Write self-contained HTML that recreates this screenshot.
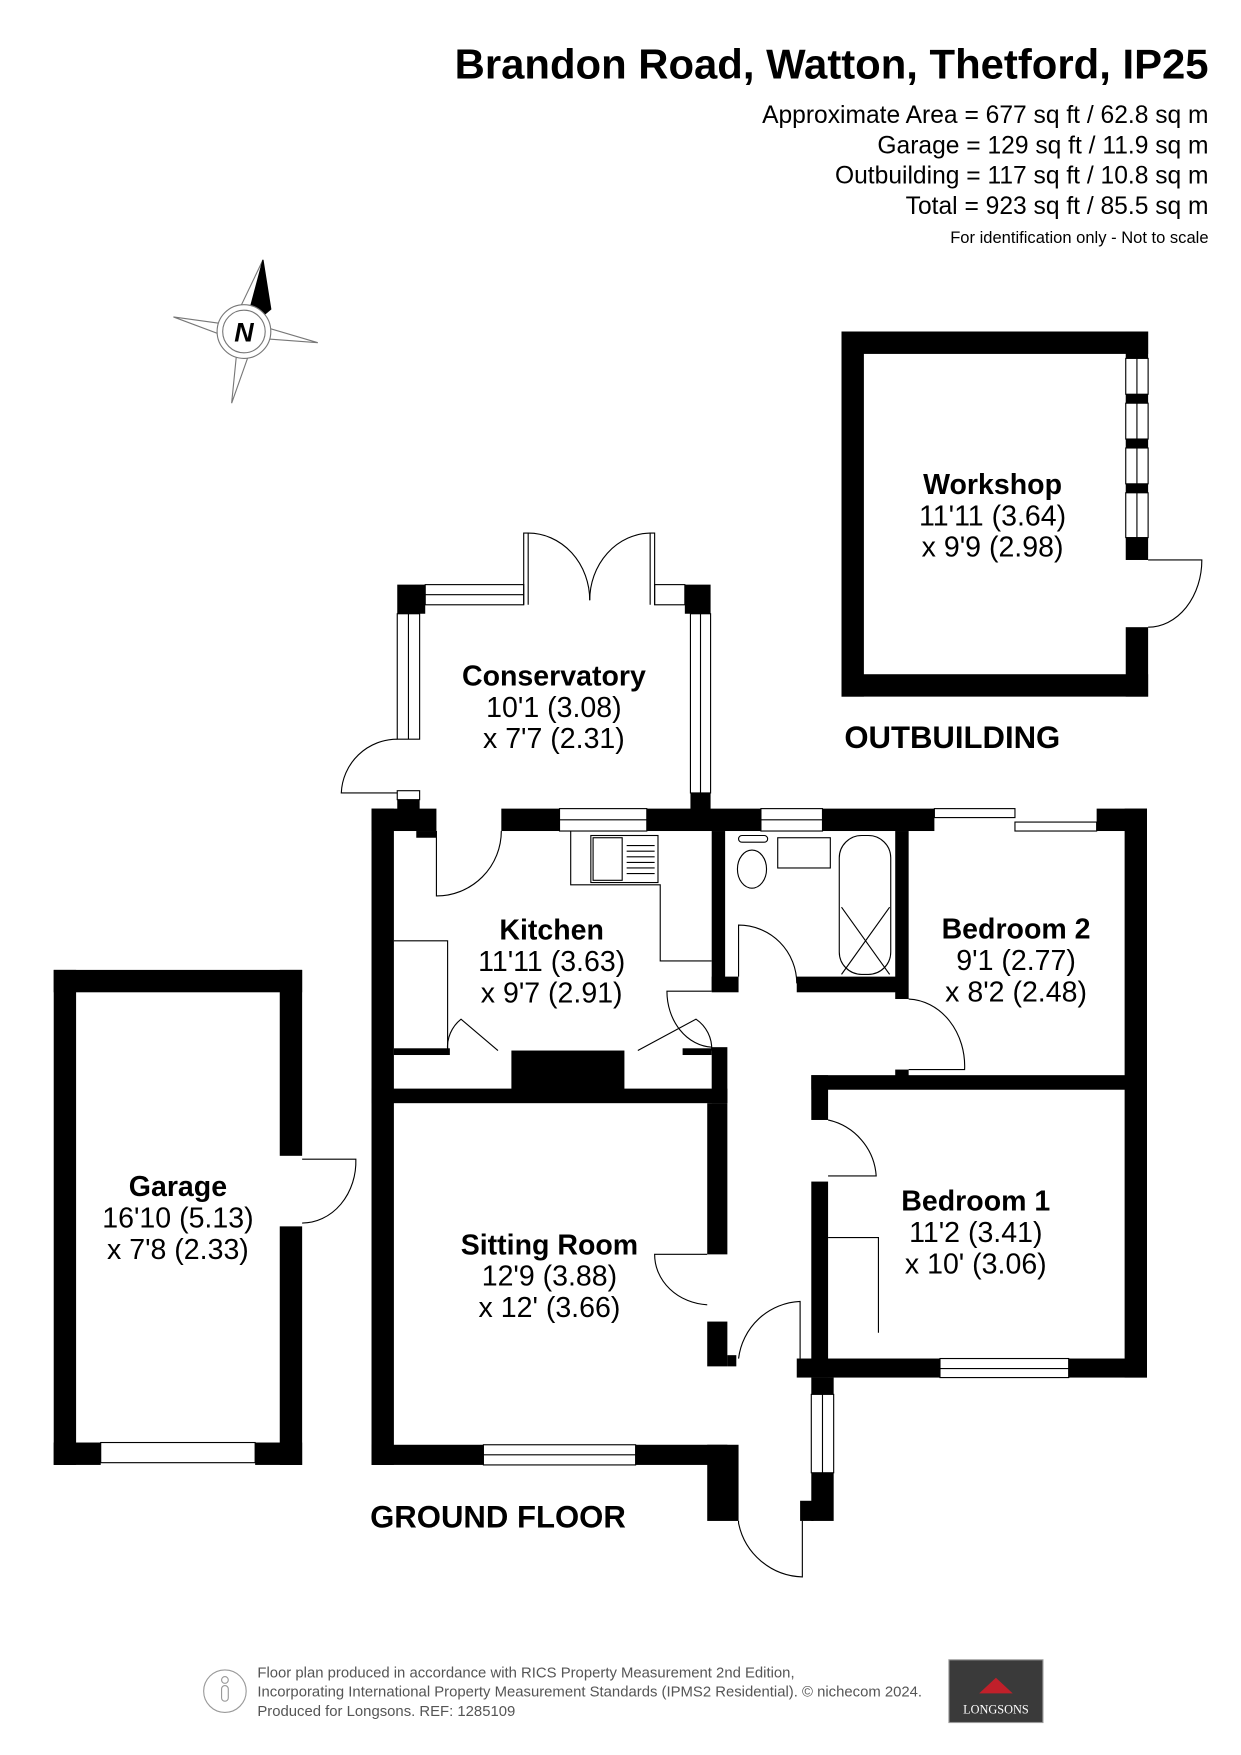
<!DOCTYPE html>
<html><head><meta charset="utf-8"><style>
html,body{margin:0;padding:0;background:#fff}
svg{display:block}
text{font-family:"Liberation Sans",sans-serif;fill:#000}
.b{font-weight:bold}
</style></head><body>
<svg width="1241" height="1755" viewBox="0 0 1109 1567" preserveAspectRatio="none" xmlns="http://www.w3.org/2000/svg">
<!-- header -->
<text x="1080" y="70" text-anchor="end" class="b" font-size="37.4">Brandon Road, Watton, Thetford, IP25</text>
<g font-size="22" text-anchor="end">
<text x="1080" y="110">Approximate Area = 677 sq ft / 62.8 sq m</text>
<text x="1080" y="137">Garage = 129 sq ft / 11.9 sq m</text>
<text x="1080" y="164">Outbuilding = 117 sq ft / 10.8 sq m</text>
<text x="1080" y="191">Total = 923 sq ft / 85.5 sq m</text>
</g>
<text x="1080" y="217" text-anchor="end" font-size="14.8">For identification only - Not to scale</text>

<!-- compass -->
<g stroke="#777" stroke-width="1" fill="#fff">
<polygon points="155,283 206,290 218,296 206,302"/>
<polygon points="284,306 230,302 218,296 230,290"/>
<polygon points="207,360 212,310 218,296 224,312"/>
<polygon points="235,232 224,282 218,296 212,280" fill="#fff"/>
<polygon points="235,232 242,276 218,296" fill="#000" stroke="#000"/>
<circle cx="218" cy="296" r="24"/>
<circle cx="218" cy="296" r="19"/>
</g>
<text x="218" y="305" text-anchor="middle" class="b" font-size="24" font-style="italic">N</text>

<g fill="#000">
<!-- Workshop -->
<rect x="752" y="296" width="274" height="20"/>
<rect x="752" y="296" width="20" height="326"/>
<rect x="752" y="602" width="274" height="20"/>
<rect x="1006" y="296" width="20" height="24"/>
<rect x="1006" y="352" width="20" height="8"/>
<rect x="1006" y="392" width="20" height="8"/>
<rect x="1006" y="432" width="20" height="8"/>
<rect x="1006" y="480" width="20" height="20"/>
<rect x="1006" y="560" width="20" height="62"/>
</g>
<g fill="#fff" stroke="#000" stroke-width="1">
<rect x="1006" y="320" width="20" height="32"/><rect x="1006" y="360" width="20" height="32"/>
<rect x="1006" y="400" width="20" height="32"/><rect x="1006" y="440" width="20" height="40"/>
</g>
<g fill="none" stroke="#000" stroke-width="1">
<line x1="1016" y1="320" x2="1016" y2="480"/>
<path d="M1026 500 L1074 500 A48 60 0 0 1 1026 560"/>
</g>
<text x="887" y="441" text-anchor="middle" class="b" font-size="25.5">Workshop</text>
<text x="887" y="469" text-anchor="middle" font-size="25.5">11'11 (3.64)</text>
<text x="887" y="497" text-anchor="middle" font-size="25.5">x 9'9 (2.98)</text>
<text x="851" y="668" text-anchor="middle" class="b" font-size="27.8">OUTBUILDING</text>

<!-- Conservatory -->
<g fill="#000">
<rect x="355" y="522" width="25" height="26"/>
<rect x="612" y="522" width="23" height="26"/>
<rect x="617" y="708" width="18" height="16"/>
<rect x="355" y="712" width="20" height="12"/>
</g>
<g fill="#fff" stroke="#000" stroke-width="1">
<rect x="380" y="522" width="88" height="18"/>
<rect x="585" y="522" width="27" height="18"/>
<rect x="355" y="548" width="20" height="112"/>
<rect x="617" y="548" width="18" height="160"/>
<rect x="355" y="706" width="20" height="8"/>
</g>
<g fill="none" stroke="#000" stroke-width="1">
<line x1="380" y1="531" x2="468" y2="531"/>
<line x1="365" y1="548" x2="365" y2="660"/>
<line x1="626" y1="548" x2="626" y2="708"/>
<path d="M468 540 L468 476 L472 476 L472 540"/>
<path d="M585 540 L585 476 L581 476 L581 540"/>
<path d="M472 476 A55 60 0 0 1 527 536"/>
<path d="M581 476 A55 60 0 0 0 527 536"/>
<path d="M355 660 A50 50 0 0 0 305 708 L355 708"/>
</g>
<text x="495" y="612" text-anchor="middle" class="b" font-size="25.5">Conservatory</text>
<text x="495" y="640" text-anchor="middle" font-size="25.5">10'1 (3.08)</text>
<text x="495" y="668" text-anchor="middle" font-size="25.5">x 7'7 (2.31)</text>

<!-- Main house walls -->
<g fill="#000">
<rect x="332" y="722" width="58" height="20"/>
<rect x="448" y="722" width="52" height="20"/>
<rect x="578" y="722" width="102" height="20"/>
<rect x="735" y="722" width="100" height="20"/>
<rect x="980" y="722" width="45" height="20"/>
<rect x="1005" y="722" width="20" height="508"/>
<rect x="332" y="722" width="20" height="586"/>
<rect x="372" y="742" width="18" height="6" />
<rect x="636" y="742" width="12" height="143"/>
<rect x="636" y="872" width="24" height="14"/>
<rect x="712" y="872" width="98" height="14"/>
<rect x="800" y="742" width="12" height="150"/>
<rect x="725" y="960" width="300" height="13"/>
<rect x="800" y="955" width="12" height="10"/>
<rect x="636" y="935" width="14" height="50"/>
<rect x="332" y="972" width="318" height="13"/>
<rect x="457" y="938" width="101" height="37"/>
<rect x="352" y="936" width="50" height="6"/>
<rect x="610" y="936" width="26" height="6"/>
<rect x="632" y="985" width="18" height="135"/>
<rect x="632" y="1180" width="18" height="40"/>
<rect x="650" y="1210" width="8" height="10"/>
<rect x="332" y="1290" width="100" height="18"/>
<rect x="568" y="1290" width="82" height="18"/>
<rect x="632" y="1290" width="28" height="68"/>
<rect x="725" y="960" width="15" height="40"/>
<rect x="725" y="1055" width="15" height="175"/>
<rect x="712" y="1213" width="128" height="17"/>
<rect x="955" y="1213" width="70" height="17"/>
<rect x="725" y="1230" width="20" height="15"/>
<rect x="725" y="1315" width="20" height="43"/>
<rect x="715" y="1340" width="12" height="18"/>
</g>
<g fill="#fff" stroke="#000" stroke-width="1">
<rect x="500" y="722" width="78" height="20"/>
<rect x="680" y="722" width="55" height="20"/>
<rect x="835" y="722" width="72" height="8"/>
<rect x="907" y="734" width="73" height="8"/>
<rect x="432" y="1290" width="136" height="18"/>
<rect x="840" y="1213" width="115" height="17"/>
<rect x="725" y="1245" width="20" height="70"/>
</g>
<g fill="none" stroke="#000" stroke-width="1">
<line x1="500" y1="732" x2="578" y2="732"/>
<line x1="680" y1="732" x2="735" y2="732"/>
<line x1="432" y1="1299" x2="568" y2="1299"/>
<line x1="840" y1="1222" x2="955" y2="1222"/>
<line x1="735" y1="1245" x2="735" y2="1315"/>
<path d="M390 742 L390 800 A58 58 0 0 0 448 742"/>
<path d="M510 742 L510 790 L590 790 L590 858 L636 858"/>
<rect x="530" y="748" width="26" height="38"/>
<rect x="528" y="746" width="60" height="42"/>
<g stroke-width="1"><line x1="560" y1="755" x2="585" y2="755"/><line x1="560" y1="760" x2="585" y2="760"/><line x1="560" y1="765" x2="585" y2="765"/><line x1="560" y1="770" x2="585" y2="770"/><line x1="560" y1="775" x2="585" y2="775"/><line x1="560" y1="780" x2="585" y2="780"/></g>
<path d="M352 840 L400 840 L400 938"/>
<path d="M400 938 A32 32 0 0 1 412 910 L445 938"/>
<path d="M636 938 A32 32 0 0 0 622 910 L570 938"/>
<path d="M636 885 L596 885 A42 50 0 0 0 636 935"/>
<ellipse cx="672" cy="776" rx="13" ry="17"/>
<rect x="660" y="746" width="26" height="6" rx="3"/>
<rect x="695" y="748" width="47" height="27"/>
<rect x="750" y="746" width="46" height="124" rx="20"/>
<path d="M752 810 L795 870 M795 810 L752 870"/>
<path d="M660 872 L660 826 A52 52 0 0 1 712 878"/>
<path d="M812 892 A52 60 0 0 1 862 955 L812 955"/>
<path d="M740 1000 A55 55 0 0 1 783 1050 L740 1050"/>
<path d="M740 1105 L785 1105 L785 1190"/>
<path d="M632 1120 L585 1120 A50 45 0 0 0 632 1165"/>
<path d="M660 1213 A58 58 0 0 1 715 1162 L715 1213"/>
<path d="M660 1358 L660 1360 A60 60 0 0 0 717 1408 L717 1358"/>
</g>
<text x="493" y="839" text-anchor="middle" class="b" font-size="25.5">Kitchen</text>
<text x="493" y="867" text-anchor="middle" font-size="25.5">11'11 (3.63)</text>
<text x="493" y="895" text-anchor="middle" font-size="25.5">x 9'7 (2.91)</text>
<text x="908" y="838" text-anchor="middle" class="b" font-size="25.5">Bedroom 2</text>
<text x="908" y="866" text-anchor="middle" font-size="25.5">9'1 (2.77)</text>
<text x="908" y="894" text-anchor="middle" font-size="25.5">x 8'2 (2.48)</text>
<text x="872" y="1081" text-anchor="middle" class="b" font-size="25.5">Bedroom 1</text>
<text x="872" y="1109" text-anchor="middle" font-size="25.5">11'2 (3.41)</text>
<text x="872" y="1137" text-anchor="middle" font-size="25.5">x 10' (3.06)</text>
<text x="491" y="1120" text-anchor="middle" class="b" font-size="25.5">Sitting Room</text>
<text x="491" y="1148" text-anchor="middle" font-size="25.5">12'9 (3.88)</text>
<text x="491" y="1176" text-anchor="middle" font-size="25.5">x 12' (3.66)</text>

<!-- Garage -->
<g fill="#000">
<rect x="48" y="866" width="222" height="20"/>
<rect x="48" y="866" width="20" height="442"/>
<rect x="250" y="866" width="20" height="166"/>
<rect x="250" y="1095" width="20" height="213"/>
<rect x="48" y="1288" width="42" height="20"/>
<rect x="228" y="1288" width="42" height="20"/>
</g>
<rect x="90" y="1288" width="138" height="18" fill="#fff" stroke="#000"/>
<path d="M270 1035 L318 1035 A48 55 0 0 1 270 1092" fill="none" stroke="#000"/>
<text x="159" y="1068" text-anchor="middle" class="b" font-size="25.5">Garage</text>
<text x="159" y="1096" text-anchor="middle" font-size="25.5">16'10 (5.13)</text>
<text x="159" y="1124" text-anchor="middle" font-size="25.5">x 7'8 (2.33)</text>
<text x="445" y="1364" text-anchor="middle" class="b" font-size="27.8">GROUND FLOOR</text>

<!-- footer -->
<circle cx="201" cy="1510" r="19" fill="none" stroke="#999"/>
<circle cx="201" cy="1500" r="3" fill="none" stroke="#999"/>
<rect x="198" y="1505" width="6" height="14" rx="3" fill="none" stroke="#999"/>
<g font-size="13.3">
<text x="230" y="1498" style="fill:#555">Floor plan produced in accordance with RICS Property Measurement 2nd Edition,</text>
<text x="230" y="1515" style="fill:#555">Incorporating International Property Measurement Standards (IPMS2 Residential).  © nichecom 2024.</text>
<text x="230" y="1532" style="fill:#555">Produced for Longsons.   REF: 1285109</text>
</g>
<rect x="848" y="1482" width="84" height="56" fill="#3a3a3a" stroke="#999"/>
<polygon points="875,1512 890,1498 905,1512" fill="#c0202a"/>
<text x="890" y="1530" text-anchor="middle" font-size="11" font-family="Liberation Serif" style="fill:#fff;font-family:'Liberation Serif',serif">LONGSONS</text>
</svg>
</body></html>
